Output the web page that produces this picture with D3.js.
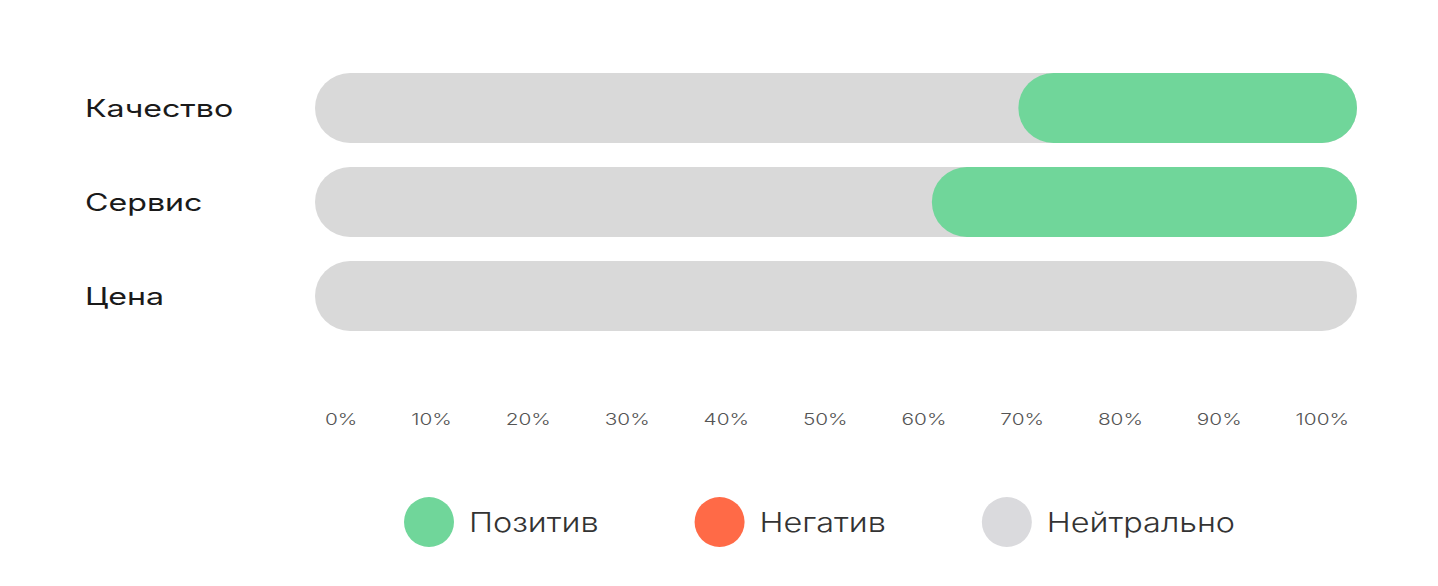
<!DOCTYPE html>
<html>
<head>
<meta charset="utf-8">
<script src="https://cdn.jsdelivr.net/npm/d3@7"></script>
<style>
  html, body { margin: 0; padding: 0; background: #ffffff; }
  svg { display: block; }
</style>
</head>
<body>
<svg id="chart" width="1438" height="586"></svg>
<script>
const categories = ["Качество", "Сервис", "Цена"];
const positive = [32.5, 40.8, 0];
const negative = [0, 0, 0];
const neutral = [67.5, 59.2, 100];
const tickValues = [0, 10, 20, 30, 40, 50, 60, 70, 80, 90, 100];
const legendLabels = ["Позитив", "Негатив", "Нейтрально"];
const legendColors = ["#70d69a", "#ff6a47", "#dadadd"];

const svg = d3.select("#chart");
const x = d3.scaleLinear().domain([0, 100]).range([315, 1357]);
const y = d3.scaleBand().domain(categories).range([73, 331]).paddingInner(0.255);
const r = y.bandwidth() / 2;
const FONT = "Inter, 'Noto Sans', sans-serif";

// widen glyphs to imitate the broad geometric face of the original
function widen(sel, factor) {
  sel.each(function() {
    const w = this.getComputedTextLength();
    d3.select(this).attr("textLength", w * factor).attr("lengthAdjust", "spacingAndGlyphs");
  });
}

const rows = categories.map((c, i) => ({
  cat: c, pos: positive[i], neg: negative[i], neu: neutral[i],
  total: positive[i] + negative[i] + neutral[i]
}));

// neutral track (whole row)
svg.append("g").selectAll("rect").data(rows).join("rect")
  .attr("x", d => x(0))
  .attr("y", d => y(d.cat))
  .attr("width", d => x(d.total) - x(0))
  .attr("height", y.bandwidth())
  .attr("rx", r).attr("ry", r)
  .attr("fill", "#d9d9d9");

// negative segment
svg.append("g").selectAll("rect").data(rows.filter(d => d.neg > 0)).join("rect")
  .attr("x", d => x(d.total - d.pos - d.neg))
  .attr("y", d => y(d.cat))
  .attr("width", d => x(d.total) - x(d.total - d.pos - d.neg))
  .attr("height", y.bandwidth())
  .attr("rx", r).attr("ry", r)
  .attr("fill", legendColors[1]);

// positive segment (right end)
svg.append("g").selectAll("rect").data(rows.filter(d => d.pos > 0)).join("rect")
  .attr("x", d => x(d.total - d.pos))
  .attr("y", d => y(d.cat))
  .attr("width", d => x(d.total) - x(d.total - d.pos))
  .attr("height", y.bandwidth())
  .attr("rx", r).attr("ry", r)
  .attr("fill", legendColors[0]);

// category labels
const labels = svg.append("g").selectAll("text").data(categories).join("text")
  .attr("x", 85)
  .attr("y", d => y(d) + y.bandwidth() / 2)
  .attr("dy", "0.36em")
  .attr("font-family", FONT)
  .attr("font-size", 24)
  .attr("font-weight", 400)
  .attr("fill", "#1a1a1a")
  .text(d => d);
widen(labels, 1.34);

// axis ticks (labels laid out with equal gaps between them)
const axis = d3.axisBottom(x).tickValues(tickValues).tickFormat(d => d + "%").tickSize(0).tickPadding(0);
const gAxis = svg.append("g").attr("transform", "translate(0,419)").call(axis);
gAxis.select(".domain").remove();
const tickTexts = gAxis.selectAll(".tick text")
  .attr("font-family", FONT)
  .attr("font-size", 16)
  .attr("font-weight", 300)
  .attr("fill", "#555")
  .attr("y", 0)
  .attr("dy", "0.36em");
widen(tickTexts, 1.3);
(function() {
  const ticks = gAxis.selectAll(".tick").nodes();
  const widths = ticks.map(t => +t.querySelector("text").getAttribute("textLength"));
  const left = 325, right = 1349;
  const gap = (right - left - d3.sum(widths)) / (ticks.length - 1);
  let cur = left;
  ticks.forEach((t, i) => {
    d3.select(t).attr("transform", `translate(${cur + widths[i] / 2},0)`);
    cur += widths[i] + gap;
  });
})();

// legend
const legend = svg.append("g").attr("transform", "translate(0,522)");
let lx = 404;
legendLabels.forEach((lab, i) => {
  const g = legend.append("g").attr("transform", `translate(${lx},0)`);
  g.append("circle").attr("cx", 25).attr("cy", 0).attr("r", 25).attr("fill", legendColors[i]);
  const t = g.append("text").attr("x", 65).attr("y", 0).attr("dy", "0.36em")
    .attr("font-family", FONT)
    .attr("font-size", 27)
    .attr("font-weight", 300)
    .attr("fill", "#333")
    .text(lab);
  widen(t, 1.2);
  lx += 65 + (+t.attr("textLength")) + 96;
});
</script>
</body>
</html>
